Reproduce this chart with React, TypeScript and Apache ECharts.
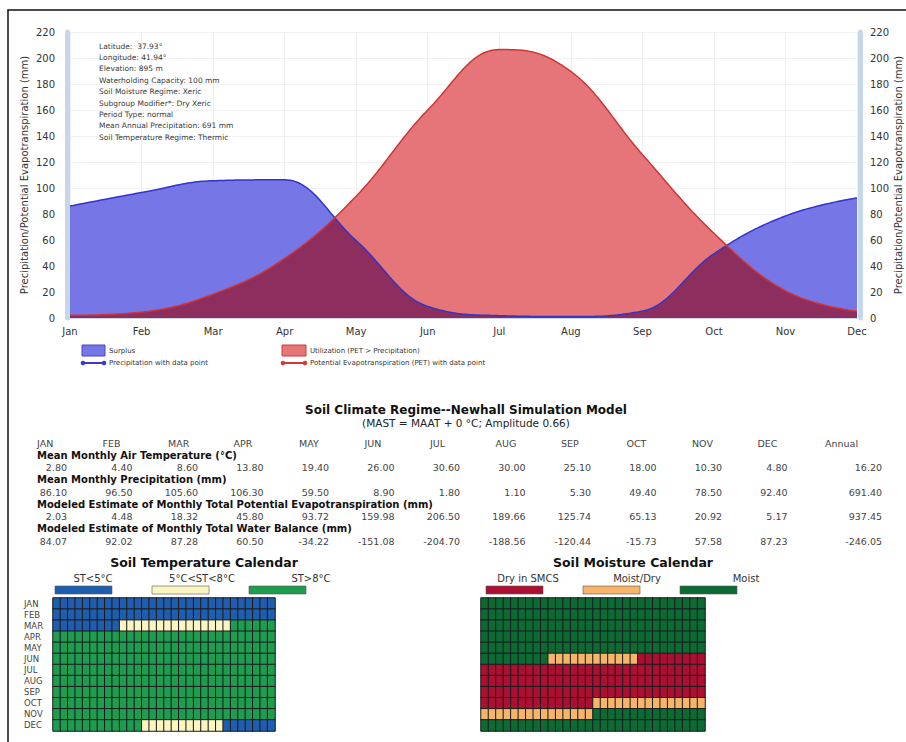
import React, { useEffect, useRef } from "react";
import * as echarts from "echarts";

const FONT = "DejaVu Sans";

const months = ["Jan", "Feb", "Mar", "Apr", "May", "Jun", "Jul", "Aug", "Sep", "Oct", "Nov", "Dec"];
const tableMonths = ["JAN", "FEB", "MAR", "APR", "MAY", "JUN", "JUL", "AUG", "SEP", "OCT", "NOV", "DEC"];

const precipitation = [86.1, 96.5, 105.6, 106.3, 59.5, 8.9, 1.8, 1.1, 5.3, 49.4, 78.5, 92.4];
const pet = [2.03, 4.48, 18.32, 45.8, 93.72, 159.98, 206.5, 189.66, 125.74, 65.13, 20.92, 5.17];
const airTemp = [2.8, 4.4, 8.6, 13.8, 19.4, 26.0, 30.6, 30.0, 25.1, 18.0, 10.3, 4.8];
const waterBalance = [84.07, 92.02, 87.28, 60.5, -34.22, -151.08, -204.7, -188.56, -120.44, -15.73, 57.58, 87.23];
const annualValues = { temp: 16.2, precip: 691.4, pet: 937.45, balance: -246.05 };

const yMin = 0;
const yMax = 220;
const yInterval = 20;
const yName = "Precipitation/Potential Evapotranspiration (mm)";

const siteInfo = [
  "Latitude:  37.93°",
  "Longitude: 41.94°",
  "Elevation: 895 m",
  "Waterholding Capacity: 100 mm",
  "Soil Moisture Regime: Xeric",
  "Subgroup Modifier*: Dry Xeric",
  "Period Type: normal",
  "Mean Annual Precipitation: 691 mm",
  "Soil Temperature Regime: Thermic",
];

// B = ST<5°C, Y = 5°C<ST<8°C, G = ST>8°C  (30 days per month)
const tempCalendar = [
  "BBBBBBBBBBBBBBBBBBBBBBBBBBBBBB",
  "BBBBBBBBBBBBBBBBBBBBBBBBBBBBBB",
  "BBBBBBBBBYYYYYYYYYYYYYYYGGGGGG",
  "GGGGGGGGGGGGGGGGGGGGGGGGGGGGGG",
  "GGGGGGGGGGGGGGGGGGGGGGGGGGGGGG",
  "GGGGGGGGGGGGGGGGGGGGGGGGGGGGGG",
  "GGGGGGGGGGGGGGGGGGGGGGGGGGGGGG",
  "GGGGGGGGGGGGGGGGGGGGGGGGGGGGGG",
  "GGGGGGGGGGGGGGGGGGGGGGGGGGGGGG",
  "GGGGGGGGGGGGGGGGGGGGGGGGGGGGGG",
  "GGGGGGGGGGGGGGGGGGGGGGGGGGGGGG",
  "GGGGGGGGGGGGYYYYYYYYYYYBBBBBBB",
];
// D = Dry in SMCS, P = Moist/Dry, M = Moist
const moistCalendar = [
  "MMMMMMMMMMMMMMMMMMMMMMMMMMMMMM",
  "MMMMMMMMMMMMMMMMMMMMMMMMMMMMMM",
  "MMMMMMMMMMMMMMMMMMMMMMMMMMMMMM",
  "MMMMMMMMMMMMMMMMMMMMMMMMMMMMMM",
  "MMMMMMMMMMMMMMMMMMMMMMMMMMMMMM",
  "MMMMMMMMMPPPPPPPPPPPPDDDDDDDDD",
  "DDDDDDDDDDDDDDDDDDDDDDDDDDDDDD",
  "DDDDDDDDDDDDDDDDDDDDDDDDDDDDDD",
  "DDDDDDDDDDDDDDDDDDDDDDDDDDDDDD",
  "DDDDDDDDDDDDDDDPPPPPPPPPPPPPPP",
  "PPPPPPPPPPPPPPPMMMMMMMMMMMMMMM",
  "MMMMMMMMMMMMMMMMMMMMMMMMMMMMMM",
];
const tempCodes = ["B", "Y", "G"];
const tempLabels = ["ST<5°C", "5°C<ST<8°C", "ST>8°C"];
const tempColors = ["#1f5dae", "#fbf5c2", "#1e9c50"];
const moistCodes = ["D", "P", "M"];
const moistLabels = ["Dry in SMCS", "Moist/Dry", "Moist"];
const moistColors = ["#ac0f32", "#f7b56a", "#0c6a35"];

const BLUE_FILL = "#7676e6";
const RED_FILL = "#e57579";
const OVERLAP_FILL = "#8d2e5e";
const BLUE_LINE = "#3434c8";
const RED_LINE = "#cf3535";

const tableRows = [
  { label: "Mean Monthly Air Temperature (°C)", values: airTemp, annual: annualValues.temp },
  { label: "Mean Monthly Precipitation (mm)", values: precipitation, annual: annualValues.precip },
  { label: "Modeled Estimate of Monthly Total Potential Evapotranspiration (mm)", values: pet, annual: annualValues.pet },
  { label: "Modeled Estimate of Monthly Total Water Balance (mm)", values: waterBalance, annual: annualValues.balance },
];

function txt(x: number, y: number, text: string, o: any = {}) {
  return {
    type: "text",
    x,
    y,
    z: 100,
    rotation: o.rotation || 0,
    silent: true,
    style: {
      text,
      fill: o.fill || "#333",
      fontSize: o.size || 10,
      fontWeight: o.weight || "normal",
      fontFamily: FONT,
      textAlign: o.align || "left",
      textVerticalAlign: "middle",
    },
  };
}

// Spline through the pixel positions of the data points (Highcharts-style control points).
function splinePath(vals: number[], api: any, steps: number): number[][] {
  const pts = vals.map((v, i) => api.coord([i, v]));
  const n = pts.length;
  const sm = 1.5;
  const den = sm + 1;
  const lc = pts.map((p: number[]) => [p[0], p[1]]);
  const rc = pts.map((p: number[]) => [p[0], p[1]]);
  for (let i = 1; i < n - 1; i++) {
    const [x, y] = pts[i];
    const [lx, ly] = pts[i - 1];
    const [nx, ny] = pts[i + 1];
    const lcx = (sm * x + lx) / den;
    let lcy = (sm * y + ly) / den;
    const rcx = (sm * x + nx) / den;
    let rcy = (sm * y + ny) / den;
    let corr = 0;
    if (rcx !== lcx) corr = ((rcy - lcy) * (rcx - x)) / (rcx - lcx) + y - rcy;
    lcy += corr;
    rcy += corr;
    if (lcy > ly && lcy > y) {
      lcy = Math.max(ly, y);
      rcy = 2 * y - lcy;
    } else if (lcy < ly && lcy < y) {
      lcy = Math.min(ly, y);
      rcy = 2 * y - lcy;
    }
    if (rcy > ny && rcy > y) {
      rcy = Math.max(ny, y);
      lcy = 2 * y - rcy;
    } else if (rcy < ny && rcy < y) {
      rcy = Math.min(ny, y);
      lcy = 2 * y - rcy;
    }
    lc[i] = [lcx, lcy];
    rc[i] = [rcx, rcy];
  }
  const out: number[][] = [];
  for (let i = 1; i < n; i++) {
    const p0 = pts[i - 1];
    const c1 = rc[i - 1];
    const c2 = lc[i];
    const p1 = pts[i];
    for (let s = i === 1 ? 0 : 1; s <= steps; s++) {
      const t = s / steps;
      const u = 1 - t;
      const a = u * u * u, b = 3 * u * u * t, c = 3 * u * t * t, d = t * t * t;
      out.push([a * p0[0] + b * c1[0] + c * c2[0] + d * p1[0], a * p0[1] + b * c1[1] + c * c2[1] + d * p1[1]]);
    }
  }
  return out;
}

export default function App() {
  const ref = useRef<HTMLDivElement>(null);
  useEffect(() => {
    if (!ref.current) return;
    const chart = echarts.init(ref.current, undefined, { renderer: "svg" });
    const days = Array.from({ length: 30 }, (_, i) => String(i + 1));
    const tempData: any[] = [];
    tempCalendar.forEach((row, r) =>
      row.split("").forEach((ch, c) => tempData.push([c, r, tempCodes.indexOf(ch)]))
    );
    const moistData: any[] = [];
    moistCalendar.forEach((row, r) =>
      row.split("").forEach((ch, c) => moistData.push([c, r, moistCodes.indexOf(ch)]))
    );
    const waterData = months.map((_, i) => [i, precipitation[i], pet[i]]);

    const graphics: any[] = [];
    graphics.push({
      type: "rect",
      silent: true,
      z: 100,
      shape: { x: 8, y: 10, width: 1200, height: 1200 },
      style: { fill: "none", stroke: "#111", lineWidth: 1.5 },
    });
    // axis titles
    graphics.push(txt(24, 175, yName, { size: 10, align: "center", rotation: Math.PI / 2 }));
    graphics.push(txt(898, 175, yName, { size: 10, align: "center", rotation: Math.PI / 2 }));

    siteInfo.forEach((s, i) => graphics.push(txt(99, 46 + i * 11.4, s, { size: 7.5, fill: "#3a3a3a" })));
    const legendShapes = [
      { type: "rect", shape: { x: 82, y: 345, width: 23, height: 11 }, style: { fill: BLUE_FILL, stroke: "#4646cc", lineWidth: 1 } },
      { type: "line", shape: { x1: 83, y1: 363, x2: 104, y2: 363 }, style: { stroke: "#3a3acb", lineWidth: 2 } },
      { type: "circle", shape: { cx: 83, cy: 363, r: 2.3 }, style: { fill: "#3a3acb" } },
      { type: "circle", shape: { cx: 104, cy: 363, r: 2.3 }, style: { fill: "#3a3acb" } },
      { type: "rect", shape: { x: 282, y: 345, width: 24, height: 11 }, style: { fill: RED_FILL, stroke: "#cc3b3b", lineWidth: 1 } },
      { type: "line", shape: { x1: 283, y1: 363, x2: 305, y2: 363 }, style: { stroke: "#d03a3a", lineWidth: 2 } },
      { type: "circle", shape: { cx: 283, cy: 363, r: 2.3 }, style: { fill: "#d03a3a" } },
      { type: "circle", shape: { cx: 305, cy: 363, r: 2.3 }, style: { fill: "#d03a3a" } },
    ];
    legendShapes.forEach((s) => graphics.push({ ...s, z: 100, silent: true }));
    graphics.push(txt(109, 351, "Surplus", { size: 7 }));
    graphics.push(txt(109, 363, "Precipitation with data point", { size: 7 }));
    graphics.push(txt(310, 351, "Utilization (PET > Precipitation)", { size: 7 }));
    graphics.push(txt(310, 363, "Potential Evapotranspiration (PET) with data point", { size: 7 }));

    // table
    graphics.push(txt(466, 410, "Soil Climate Regime--Newhall Simulation Model", { size: 12, weight: "bold", fill: "#111", align: "center" }));
    graphics.push(txt(466, 423, "(MAST = MAAT + 0 °C; Amplitude 0.66)", { size: 10.5, fill: "#222", align: "center" }));
    tableMonths.forEach((m, i) => graphics.push(txt(37 + i * 65.5, 443, m, { size: 9.5, fill: "#444" })));
    graphics.push(txt(825, 443, "Annual", { size: 9.5, fill: "#444" }));
    tableRows.forEach((row, k) => {
      const y0 = 455 + k * 24.5;
      graphics.push(txt(37, y0, row.label, { size: 10, weight: "bold", fill: "#111" }));
      row.values.forEach((v, i) =>
        graphics.push(txt(67 + i * 65.5, y0 + 12.5, v.toFixed(2), { size: 9.5, fill: "#444", align: "right" }))
      );
      graphics.push(txt(882, y0 + 12.5, row.annual.toFixed(2), { size: 9.5, fill: "#444", align: "right" }));
    });

    // calendars
    graphics.push(txt(204, 562, "Soil Temperature Calendar", { size: 12.5, weight: "bold", fill: "#111", align: "center" }));
    graphics.push(txt(633, 562, "Soil Moisture Calendar", { size: 12.5, weight: "bold", fill: "#111", align: "center" }));
    const tempLegendRect = [55, 152, 249];
    const tempLegendText = [93, 202, 311];
    tempLabels.forEach((l, i) => {
      graphics.push(txt(tempLegendText[i], 578, l, { size: 10, align: "center" }));
      graphics.push({ type: "rect", z: 100, silent: true, shape: { x: tempLegendRect[i], y: 586, width: 57, height: 8 }, style: { fill: tempColors[i], stroke: "#555", lineWidth: 0.6 } });
    });
    const moistLegendRect = [486, 583, 680];
    const moistLegendText = [528, 637, 746];
    moistLabels.forEach((l, i) => {
      graphics.push(txt(moistLegendText[i], 578, l, { size: 10, align: "center" }));
      graphics.push({ type: "rect", z: 100, silent: true, shape: { x: moistLegendRect[i], y: 586, width: 57, height: 8 }, style: { fill: moistColors[i], stroke: "#555", lineWidth: 0.6 } });
    });

    const yAxisCommon = {
      type: "value",
      gridIndex: 0,
      min: yMin,
      max: yMax,
      interval: yInterval,
      axisLine: { show: true, lineStyle: { color: "#c7d7ea", width: 5 } },
      axisTick: { show: false },
      axisLabel: { color: "#333", fontSize: 10, fontFamily: FONT },
    };

    const renderWater = (params: any, api: any) => {
      if (params.dataIndex !== 0) return null;
      const steps = 30;
      const pLine = splinePath(precipitation, api, steps);
      const eLine = splinePath(pet, api, steps);
      const base = api.coord([0, 0])[1];
      const x0 = pLine[0][0];
      const x1 = pLine[pLine.length - 1][0];
      const closed = (line: number[][]) => [...line, [x1, base], [x0, base]];
      const overlap = pLine.map((p, i) => [p[0], Math.max(p[1], eLine[i][1])]);
      return {
        type: "group",
        children: [
          { type: "polygon", shape: { points: closed(pLine) }, style: { fill: BLUE_FILL } },
          { type: "polygon", shape: { points: closed(eLine) }, style: { fill: RED_FILL } },
          { type: "polygon", shape: { points: closed(overlap) }, style: { fill: OVERLAP_FILL } },
          { type: "polyline", shape: { points: pLine }, style: { stroke: BLUE_LINE, lineWidth: 1.5, fill: null } },
          { type: "polyline", shape: { points: eLine }, style: { stroke: RED_LINE, lineWidth: 1.5, fill: null } },
        ],
      };
    };

    chart.setOption({
      animation: false,
      backgroundColor: "#fff",
      grid: [
        { left: 70, top: 32, width: 787, height: 286, outerBoundsMode: "none", containLabel: false },
        { left: 53, top: 598, width: 222, height: 133, outerBoundsMode: "none", containLabel: false },
        { left: 481, top: 598, width: 224, height: 133, outerBoundsMode: "none", containLabel: false },
      ],
      xAxis: [
        {
          gridIndex: 0,
          type: "category",
          data: months,
          boundaryGap: false,
          axisLine: { lineStyle: { color: "#ccd6eb" } },
          axisTick: { show: false },
          axisLabel: { color: "#333", fontSize: 10, fontFamily: FONT, margin: 8, interval: 0 },
          splitLine: { show: true, lineStyle: { color: "#f1f1f4" } },
        },
        { gridIndex: 1, type: "category", data: days, show: false },
        { gridIndex: 2, type: "category", data: days, show: false },
      ],
      yAxis: [
        {
          ...yAxisCommon,
          position: "left",
          offset: 3,
          axisLabel: { ...yAxisCommon.axisLabel, margin: 12 },
          splitLine: { show: true, lineStyle: { color: "#f1f1f4" } },
        },
        {
          ...yAxisCommon,
          position: "right",
          offset: 3,
          axisLabel: { ...yAxisCommon.axisLabel, margin: 10 },
          splitLine: { show: false },
        },
        {
          gridIndex: 1,
          type: "category",
          data: tableMonths,
          inverse: true,
          axisLine: { show: false },
          axisTick: { show: false },
          axisLabel: { align: "left", margin: 29, fontSize: 8.5, color: "#444", fontFamily: FONT, interval: 0, hideOverlap: false },
        },
        { gridIndex: 2, type: "category", data: tableMonths, inverse: true, show: false },
      ],
      visualMap: [
        {
          type: "piecewise",
          show: false,
          seriesIndex: 1,
          dimension: 2,
          pieces: tempColors.map((c, i) => ({ value: i, color: c })),
        },
        {
          type: "piecewise",
          show: false,
          seriesIndex: 2,
          dimension: 2,
          pieces: moistColors.map((c, i) => ({ value: i, color: c })),
        },
      ],
      series: [
        {
          type: "custom",
          name: "Water balance",
          coordinateSystem: "cartesian2d",
          xAxisIndex: 0,
          yAxisIndex: 0,
          data: waterData,
          encode: { x: 0, y: [1, 2] },
          renderItem: renderWater,
          z: 2,
        },
        {
          type: "heatmap",
          xAxisIndex: 1,
          yAxisIndex: 2,
          data: tempData,
          itemStyle: { borderColor: "#1b1b1b", borderWidth: 1 },
        },
        {
          type: "heatmap",
          xAxisIndex: 2,
          yAxisIndex: 3,
          data: moistData,
          itemStyle: { borderColor: "#1b1b1b", borderWidth: 1 },
        },
      ],
      graphic: graphics,
    });
    return () => chart.dispose();
  }, []);
  return <div ref={ref} style={{ position: "absolute", left: 0, top: 0, width: 906, height: 742 }} />;
}
